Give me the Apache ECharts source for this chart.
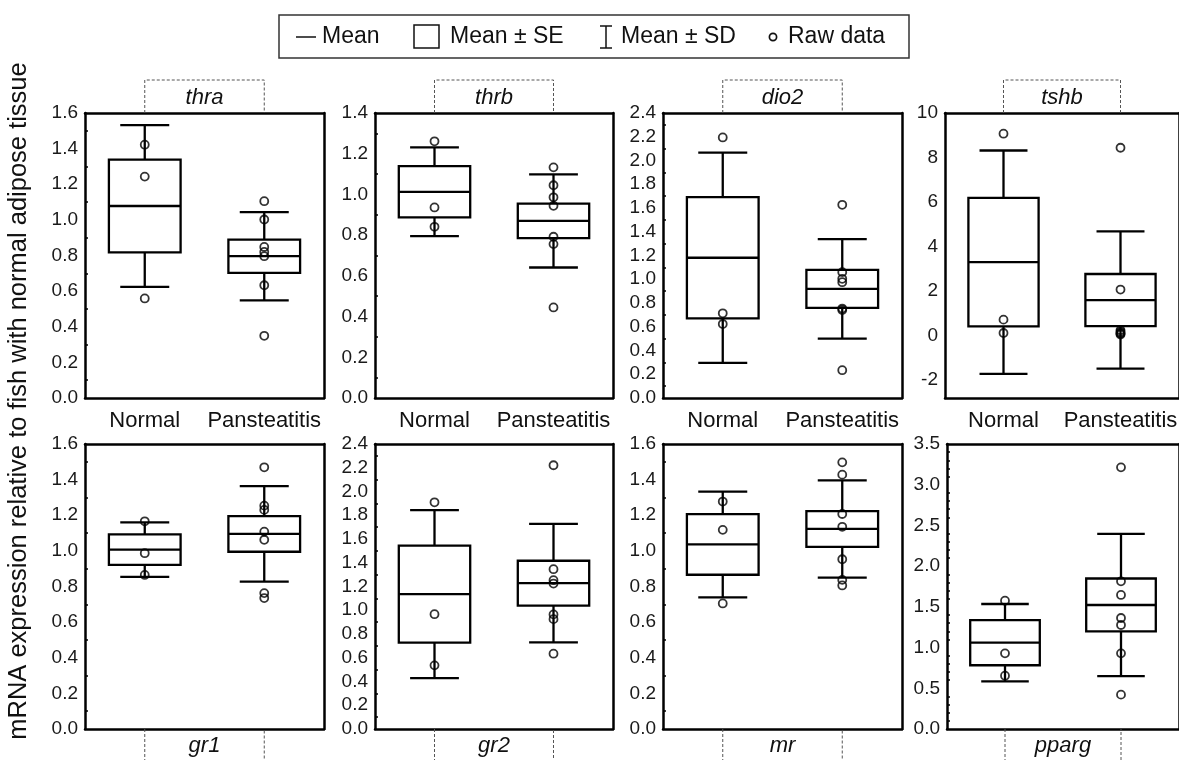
<!DOCTYPE html>
<html>
<head>
<meta charset="utf-8">
<script src="https://cdn.jsdelivr.net/npm/echarts@6/dist/echarts.min.js"></script>
<style>
  html, body { margin: 0; padding: 0; background: #fff; }
  #chart { width: 1179px; height: 760px; }
</style>
</head>
<body>
<div id="chart"></div>
<script>
// Groups and genes
const groups = ['Normal', 'Pansteatitis'];
const genes = ['thra', 'thrb', 'dio2', 'tshb', 'gr1', 'gr2', 'mr', 'pparg'];

// Summary statistics per gene (same order as genes)
const meanNormal = [1.078, 1.013, 1.181, 3.30, 1.007, 1.136, 1.036, 1.060];
const meanPan    = [0.796, 0.870, 0.919, 1.60, 1.095, 1.228, 1.123, 1.523];
const seNormal   = [0.260, 0.126, 0.510, 2.885, 0.086, 0.409, 0.170, 0.277];
const sePan      = [0.093, 0.085, 0.160, 1.170, 0.100, 0.189, 0.100, 0.325];
const sdNormal   = [0.454, 0.218, 0.886, 5.015, 0.153, 0.707, 0.297, 0.475];
const sdPan      = [0.248, 0.229, 0.419, 3.080, 0.268, 0.499, 0.273, 0.874];

// Raw data per gene
const rawNormal = [
  [1.422, 1.243, 0.559],
  [1.261, 0.936, 0.841],
  [2.194, 0.713, 0.623],
  [9.07, 0.72, 0.12],
  [1.166, 0.987, 0.865],
  [1.909, 0.967, 0.536],
  [1.277, 1.118, 0.705],
  [1.576, 0.929, 0.655]
];
const rawPan = [
  [1.105, 1.002, 0.848, 0.820, 0.796, 0.633, 0.349],
  [1.133, 1.045, 0.986, 0.944, 0.792, 0.756, 0.445],
  [1.627, 1.060, 1.004, 0.975, 0.753, 0.741, 0.234],
  [8.44, 2.07, 0.25, 0.18, 0.12, 0.09, 0.05],
  [1.469, 1.254, 1.230, 1.108, 1.062, 0.763, 0.735],
  [2.221, 1.346, 1.253, 1.225, 0.965, 0.925, 0.634],
  [1.497, 1.428, 1.207, 1.135, 0.953, 0.837, 0.806],
  [3.213, 1.814, 1.646, 1.363, 1.277, 0.929, 0.422]
];

// Y axis ranges and ticks
const yMin = [0, 0, 0, -2.8, 0, 0, 0, 0];
const yMax = [1.6, 1.4, 2.4, 10, 1.6, 2.4, 1.6, 3.5];
const yStep = [0.2, 0.2, 0.2, 2, 0.2, 0.2, 0.2, 0.5];
const yMinorSplit = [2, 2, 2, 2, 2, 2, 2, 5];
const tshbTicks = [-2, 0, 2, 4, 6, 8, 10];
const tshbMinorTicks = [-1, 1, 3, 5, 7, 9];

// Panel placement
const gridLeft  = [85, 375, 663, 945, 85, 375, 663, 947];
const gridWidth = [239, 238, 239, 244, 239, 238, 239, 239];
const rowTop = [113, 444];
const panelHeight = 285;

const FONT = 'Liberation Sans, Arial, Helvetica, sans-serif';
const INK = '#000';
const TEXT = '#1a1a1a';

const chart = echarts.init(document.getElementById('chart'), null, { renderer: 'canvas' });

const grid = [], xAxis = [], yAxis = [], series = [];

// Box = mean ± SE, whiskers = mean ± SD, line = mean
function boxItem(params, api) {
  const x = api.value(0), m = api.value(1), se = api.value(2), sd = api.value(3);
  const band = api.size([1, 0])[0];
  const cx = api.coord([x, m])[0];
  const yMean = api.coord([x, m])[1];
  const yTop = api.coord([x, m + se])[1];
  const yBot = api.coord([x, m - se])[1];
  const ySdTop = api.coord([x, m + sd])[1];
  const ySdBot = api.coord([x, m - sd])[1];
  const bw = band * 0.6, cw = band * 0.41;
  const st = { stroke: INK, lineWidth: 2.3, fill: null };
  return {
    type: 'group',
    children: [
      { type: 'line', shape: { x1: cx, y1: ySdTop, x2: cx, y2: yTop }, style: st },
      { type: 'line', shape: { x1: cx, y1: yBot, x2: cx, y2: ySdBot }, style: st },
      { type: 'line', shape: { x1: cx - cw / 2, y1: ySdTop, x2: cx + cw / 2, y2: ySdTop }, style: st },
      { type: 'line', shape: { x1: cx - cw / 2, y1: ySdBot, x2: cx + cw / 2, y2: ySdBot }, style: st },
      { type: 'rect', shape: { x: cx - bw / 2, y: yTop, width: bw, height: yBot - yTop }, style: st },
      { type: 'line', shape: { x1: cx - bw / 2, y1: yMean, x2: cx + bw / 2, y2: yMean }, style: st }
    ]
  };
}

// Dashed bracket joining the two group ticks, with the gene name
function bracketItem(isTop, name) {
  return function (params, api) {
    const cs = params.coordSys;
    const xa = api.coord([0, api.value(1)])[0];
    const xb = api.coord([1, api.value(1)])[0];
    const edge = isTop ? cs.y : cs.y + cs.height;
    const far = isTop ? edge - 33 : edge + 45;
    const dash = { stroke: '#555', lineWidth: 1, lineDash: [3, 2], fill: null };
    return {
      type: 'group',
      children: [
        { type: 'polyline', shape: { points: [[xa, edge], [xa, far], [xb, far], [xb, edge]] }, style: dash },
        {
          type: 'text',
          style: {
            text: name, x: (xa + xb) / 2, y: isTop ? edge - 15 : edge + 17,
            align: 'center', verticalAlign: 'middle',
            fontSize: 22, fontStyle: 'italic', fontFamily: FONT, fill: '#111'
          }
        }
      ]
    };
  };
}

genes.forEach((gene, i) => {
  const isTop = i < 4;
  const isTshb = gene === 'tshb';
  grid.push({ left: gridLeft[i], top: rowTop[isTop ? 0 : 1], width: gridWidth[i], height: panelHeight });

  const xCommon = {
    type: 'category', gridIndex: i, data: groups, boundaryGap: true,
    axisLine: { onZero: false, lineStyle: { color: INK, width: 2.5 } },
    axisTick: { inside: true, alignWithLabel: true, interval: 0, length: 5, lineStyle: { color: INK, width: 2 } },
    splitLine: { show: false }
  };
  xAxis.push(Object.assign({}, xCommon, {
    position: 'bottom',
    axisLabel: { show: isTop, interval: 0, fontSize: 22, color: '#111', fontFamily: FONT, margin: 12 }
  }));
  xAxis.push(Object.assign({}, xCommon, { position: 'top', axisLabel: { show: false } }));

  const yBase = {
    type: 'value', gridIndex: i, min: yMin[i], max: yMax[i],
    axisLine: { show: true, lineStyle: { color: INK, width: 2.5 } },
    splitLine: { show: false }
  };
  const fmt = v => (yStep[i] >= 1 ? String(Math.round(v)) : v.toFixed(1));
  const leftAxis = Object.assign({}, yBase, {
    position: 'left',
    axisTick: { inside: true, length: 5, lineStyle: { color: INK, width: 2 } },
    axisLabel: { fontSize: 19, color: TEXT, fontFamily: FONT, margin: 7, formatter: fmt },
    minorTick: { show: !isTshb, splitNumber: yMinorSplit[i], length: 3, lineStyle: { color: INK, width: 1.5 } }
  });
  const rightAxis = Object.assign({}, yBase, {
    position: 'right',
    axisTick: { inside: true, length: 5, lineStyle: { color: INK, width: 2 } },
    axisLabel: { show: false }
  });
  if (isTshb) {
    leftAxis.axisLabel.customValues = tshbTicks;
    leftAxis.axisTick.customValues = tshbTicks;
    rightAxis.axisTick.customValues = tshbTicks;
  } else {
    leftAxis.interval = yStep[i];
    rightAxis.interval = yStep[i];
  }
  const leftIdx = yAxis.length;
  yAxis.push(leftAxis);
  yAxis.push(rightAxis);
  if (isTshb) {
    yAxis.push(Object.assign({}, yBase, {
      position: 'left',
      axisLine: { show: false },
      axisTick: { inside: true, length: 3, customValues: tshbMinorTicks, lineStyle: { color: INK, width: 1.5 } },
      axisLabel: { show: false }
    }));
  }

  series.push({
    type: 'custom', name: gene + ' box', xAxisIndex: 2 * i, yAxisIndex: leftIdx,
    renderItem: boxItem, clip: false, z: 3,
    data: [
      [0, meanNormal[i], seNormal[i], sdNormal[i]],
      [1, meanPan[i], sePan[i], sdPan[i]]
    ],
    encode: { x: 0, y: 1 }
  });
  series.push({
    type: 'scatter', name: gene + ' raw', xAxisIndex: 2 * i, yAxisIndex: leftIdx,
    symbol: 'circle', symbolSize: 8, z: 4,
    itemStyle: { color: 'rgba(0,0,0,0)', borderColor: INK, borderWidth: 1.8 },
    data: rawNormal[i].map(v => [0, v]).concat(rawPan[i].map(v => [1, v]))
  });
  series.push({
    type: 'custom', name: gene + ' label', xAxisIndex: 2 * i, yAxisIndex: leftIdx,
    renderItem: bracketItem(isTop, gene), clip: false, silent: true, z: 2,
    data: [[0, yMax[i]]],
    encode: { x: 0, y: 1 }
  });
});

// Legend drawn as a framed key
const legendY = 37;
const legendFont = { fontSize: 23, fontFamily: FONT, fill: '#111', verticalAlign: 'middle' };
const keyStroke = { stroke: '#111', lineWidth: 1.5, fill: null };
const graphic = [
  { type: 'rect', shape: { x: 279, y: 15, width: 630, height: 43 }, style: { stroke: '#333', lineWidth: 1.5, fill: '#fff' } },
  { type: 'line', shape: { x1: 296, y1: legendY, x2: 316, y2: legendY }, style: keyStroke },
  { type: 'text', style: Object.assign({ text: 'Mean', x: 322, y: legendY }, legendFont) },
  { type: 'rect', shape: { x: 414, y: 25, width: 25, height: 23 }, style: keyStroke },
  { type: 'text', style: Object.assign({ text: 'Mean ± SE', x: 450, y: legendY }, legendFont) },
  { type: 'line', shape: { x1: 600, y1: 26, x2: 612, y2: 26 }, style: keyStroke },
  { type: 'line', shape: { x1: 600, y1: 48, x2: 612, y2: 48 }, style: keyStroke },
  { type: 'line', shape: { x1: 606, y1: 26, x2: 606, y2: 48 }, style: keyStroke },
  { type: 'text', style: Object.assign({ text: 'Mean ± SD', x: 621, y: legendY }, legendFont) },
  { type: 'circle', shape: { cx: 773, cy: legendY, r: 3.6 }, style: { stroke: '#111', lineWidth: 1.7, fill: null } },
  { type: 'text', style: Object.assign({ text: 'Raw data', x: 788, y: legendY }, legendFont) },
  {
    type: 'text', x: 19, y: 401, rotation: Math.PI / 2,
    style: {
      text: 'mRNA expression relative to fish with normal adipose tissue',
      fontSize: 25.5, fontFamily: FONT, fill: '#111', align: 'center', verticalAlign: 'middle'
    }
  }
];

chart.setOption({
  animation: false,
  backgroundColor: '#fff',
  grid, xAxis, yAxis, series, graphic
});
</script>
</body>
</html>
